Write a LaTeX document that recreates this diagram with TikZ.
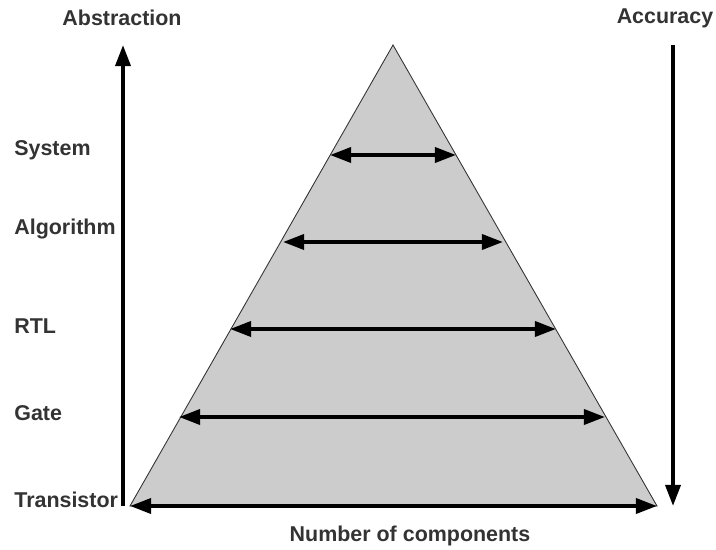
\documentclass[tikz,border=0pt]{standalone}
\usepackage{fontspec}
\setmainfont{Liberation Sans}
\usetikzlibrary{arrows.meta}
\definecolor{pyrgray}{HTML}{CCCCCC}
\definecolor{labgray}{HTML}{333333}
\tikzset{
  level/.style={anchor=west, inner sep=0pt, text=labgray, font=\bfseries\fontsize{12.2}{14}\selectfont},
  axis/.style={anchor=center, inner sep=0pt, text=labgray, font=\bfseries\fontsize{12.2}{14}\selectfont},
  bigarrow/.style={line width=2.2pt, -{Triangle[length=12pt,width=8.5pt]}},
  twoarrow/.style={line width=2.2pt, {Triangle[length=12pt,width=8.5pt]}-{Triangle[length=12pt,width=8.5pt]}}
}
\begin{document}
\begin{tikzpicture}[x=0.02cm, y=-0.02cm]
    \useasboundingbox (0,0) rectangle (716,550);
    % Pyramid
    \coordinate (top) at (393,45);
    \coordinate (bl) at (130,506);
    \coordinate (br) at (657,506);
    \draw[fill=pyrgray, draw=black!80, line width=0.5pt] (top) -- (bl) -- (br) -- cycle;
    % Side axes
    \node[axis] (abs) at (122,18) {Abstraction};
    \node[axis] (acc) at (665,18) {Accuracy};
    \coordinate (absB) at (123,506);
    \coordinate (absT) at (123,45);
    \coordinate (accT) at (673,45);
    \coordinate (accB) at (673,506);
    \draw[bigarrow] (absB) -- (absT);
    \draw[bigarrow] (accT) -- (accB);
    % Levels
    \node[level] (sys) at (14,150) {System};
    \node[level] (alg) at (14,229) {Algorithm};
    \node[level] (rtl) at (14,326) {RTL};
    \node[level] (gate) at (14,413) {Gate};
    \node[level] (tran) at (14,500) {Transistor};
    % Widths
    \coordinate (sysL) at (330,155);
    \coordinate (sysR) at (456,155);
    \coordinate (algL) at (283,242);
    \coordinate (algR) at (503,242);
    \coordinate (rtlL) at (230,329);
    \coordinate (rtlR) at (556,329);
    \coordinate (gateL) at (179,417);
    \coordinate (gateR) at (605,417);
    \draw[twoarrow] (sysL) -- (sysR);
    \draw[twoarrow] (algL) -- (algR);
    \draw[twoarrow] (rtlL) -- (rtlR);
    \draw[twoarrow] (gateL) -- (gateR);
    \draw[twoarrow] (bl) -- (br);
    \node[axis] (num) at (410,536) {Number of components};
\end{tikzpicture}
\end{document}
